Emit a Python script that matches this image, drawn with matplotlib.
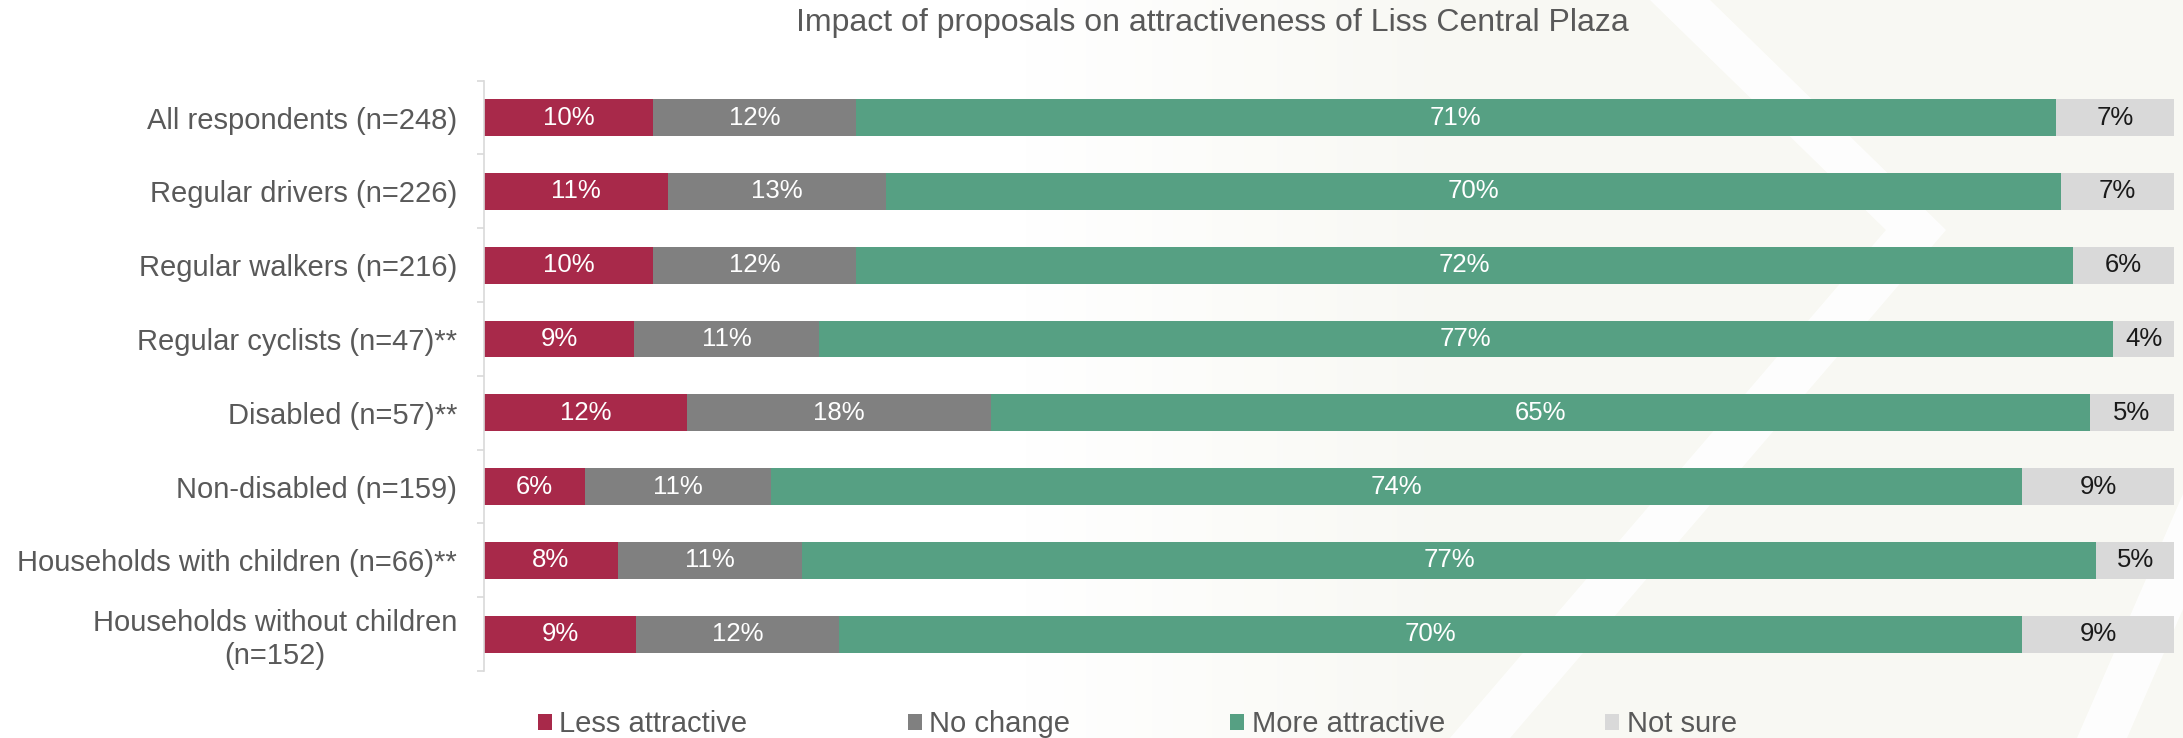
import numpy as np
import matplotlib.pyplot as plt
from matplotlib.patches import Patch, Polygon

plt.rcParams['font.family'] = ['Liberation Sans', 'DejaVu Sans']

groups = ['All respondents (n=248)', 'Regular drivers (n=226)', 'Regular walkers (n=216)',
          'Regular cyclists (n=47)**', 'Disabled (n=57)**', 'Non-disabled (n=159)',
          'Households with children (n=66)**', 'Households without children\n(n=152)']
less_attr = [10, 10.9, 10, 8.9, 12, 6, 7.9, 9]
no_change = [12, 12.9, 12, 10.9, 18, 11, 10.9, 12]
more_attr = [71, 69.5, 72, 76.6, 65, 74, 76.6, 70]
not_sure = [7, 6.7, 6, 3.6, 5, 9, 4.6, 9]

series = [('Less attractive', less_attr, '#a8294a', 'white'),
          ('No change', no_change, '#808080', 'white'),
          ('More attractive', more_attr, '#56a083', 'white'),
          ('Not sure', not_sure, '#d9d9d9', '#1a1a1a')]

W, H = 2183, 738
fig = plt.figure(figsize=(W / 100, H / 100), dpi=100)

# faint cream backdrop with pale chevrons on the right
bg = fig.add_axes([0, 0, 1, 1], zorder=0)
xs = np.linspace(0, 1, 400)
fade = np.clip((xs - 0.47) / 0.2, 0, 1)
c0 = np.array([1.0, 1.0, 1.0])
c1 = np.array([0xf8, 0xf8, 0xf3]) / 255
grad = c0[None, :] * (1 - fade[:, None]) + c1[None, :] * fade[:, None]
bg.imshow(grad[None, :, :], extent=[0, W, 0, H], aspect='auto')
chev1 = [(1650, H), (1710, H), (1946, H - 230), (1510, 0), (1450, 0), (1886, H - 230)]
chev2 = [(2077, 0), (2127, 0), (W, 129), (W, 244)]
for pts in (chev1, chev2):
    bg.add_patch(Polygon(pts, closed=True, facecolor='white', edgecolor='none', alpha=0.85))
bg.set_xlim(0, W)
bg.set_ylim(0, H)
bg.axis('off')

ax = fig.add_axes([484 / W, 1 - 671 / H, 1690 / W, 590.3 / H], zorder=1)
ax.set_facecolor('none')

y = np.arange(len(groups))
left = np.zeros(len(groups))
for name, vals, col, txtcol in series:
    vals = np.array(vals)
    ax.barh(y, vals, left=left, height=0.5, color=col, label=name)
    for yi, l, v in zip(y, left, vals):
        ax.text(l + v / 2, yi, f'{v:.0f}%', ha='center', va='center',
                fontsize=18.5, color=txtcol)
    left += vals

ax.set_xlim(0, 100)
ax.set_ylim(len(groups) - 0.5, -0.5)
ax.set_yticks(y)
ax.set_yticklabels(groups, fontsize=21, color='#595959')
for lbl in ax.get_yticklabels():
    lbl.set_multialignment('center')
ax.set_yticks(np.arange(len(groups) + 1) - 0.5, minor=True)
ax.tick_params(axis='y', which='major', length=0, pad=19.5)
ax.tick_params(axis='y', which='minor', length=5, width=1.2, color='#d9d9d9')
ax.set_xticks([])
for s in ['top', 'right', 'bottom']:
    ax.spines[s].set_visible(False)
ax.spines['left'].set_color('#d9d9d9')
ax.spines['left'].set_linewidth(1.2)

fig.text(1212 / W, 1 - 23 / H, 'Impact of proposals on attractiveness of Liss Central Plaza',
         ha='center', va='center', fontsize=23, color='#595959')

handles = [Patch(facecolor=c, edgecolor='none', label=n) for n, _, c, _ in series]
fig.legend(handles=handles, loc='center', bbox_to_anchor=(0.521, 1 - 724 / H), ncol=4,
           frameon=False, fontsize=21, labelcolor='#595959', handlelength=0.48,
           handleheight=0.48, handletextpad=0.25, columnspacing=5.5, borderaxespad=0)

fig.savefig('out.png', dpi=100)
